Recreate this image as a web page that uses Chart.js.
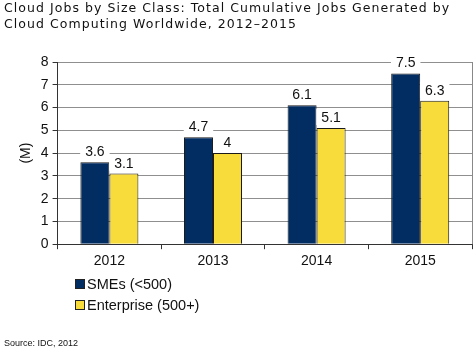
<!DOCTYPE html>
<html><head><meta charset="utf-8">
<script src="https://cdn.jsdelivr.net/npm/chart.js@4"></script>
<style>
html,body{margin:0;padding:0;background:#fff;}
#wrap{position:relative;width:476px;height:352px;overflow:hidden;}
#title{position:absolute;left:4px;top:0px;font-family:"DejaVu Sans",Verdana,sans-serif;font-size:12.5px;letter-spacing:1.05px;line-height:16px;color:#111;white-space:nowrap;}
#legend{position:absolute;left:75px;top:274px;font-family:"Liberation Sans",Arial,sans-serif;font-size:14.5px;color:#111;}
#legend .item{height:21px;line-height:21px;white-space:nowrap;}
#legend .sw{display:inline-block;width:8px;height:8px;border:1px solid #222;margin-right:2px;vertical-align:0px;}
#source{position:absolute;left:4px;top:338px;font-family:"Liberation Sans",Arial,sans-serif;font-size:9px;color:#111;}
canvas{position:absolute;left:0;top:0;}
</style></head>
<body><div id="wrap">
<canvas id="c" width="476" height="352"></canvas>
<div id="title">Cloud Jobs by Size Class: Total Cumulative Jobs Generated by<br>Cloud Computing Worldwide, 2012–2015</div>
<div id="legend"></div>
<div id="source">Source: IDC, 2012</div>
</div>
<script>
const categories = ["2012","2013","2014","2015"];
const smes = [3.6, 4.7, 6.1, 7.5];
const enterprise = [3.1, 4, 5.1, 6.3];
const seriesNames = ["SMEs (<500)", "Enterprise (500+)"];
const yTicks = [0,1,2,3,4,5,6,7,8];
const colors = ["#022D63", "#F8DC3B"];

const labelPlugin = {
  id: 'valueLabels',
  afterDatasetsDraw(chart) {
    const ctx = chart.ctx;
    ctx.save();
    ctx.font = '14px "Liberation Sans", Arial, sans-serif';
    ctx.textAlign = 'center';
    ctx.textBaseline = 'alphabetic';
    chart.data.datasets.forEach((ds, i) => {
      const meta = chart.getDatasetMeta(i);
      meta.data.forEach((bar, j) => {
        const txt = String(ds.data[j]);
        const w = ctx.measureText(txt).width;
        const x = bar.x, yb = bar.y - 6;
        ctx.fillStyle = '#fff';
        ctx.fillRect(x - w/2 - 5, yb - 13, w + 10, 16);
        ctx.fillStyle = '#111';
        ctx.fillText(txt, x, yb);
      });
    });
    const a = chart.chartArea;
    ctx.strokeStyle = '#888';
    ctx.lineWidth = 1;
    ctx.beginPath();
    ctx.moveTo(Math.round(a.right) + 0.5, a.top);
    ctx.lineTo(Math.round(a.right) + 0.5, a.bottom);
    ctx.stroke();
    ctx.restore();
  }
};

const chart = new Chart(document.getElementById('c'), {
  type: 'bar',
  data: {
    labels: categories,
    datasets: [
      { label: seriesNames[0], data: smes, backgroundColor: colors[0], borderColor: '#1a1a1a', borderWidth: 1 },
      { label: seriesNames[1], data: enterprise, backgroundColor: colors[1], borderColor: '#1a1a1a', borderWidth: 1 }
    ]
  },
  options: {
    responsive: false,
    animation: false,
    layout: { padding: { top: 62, right: 4, bottom: 78, left: 18 } },
    plugins: { legend: { display: false }, title: { display: false }, tooltip: { enabled: false } },
    datasets: { bar: { categoryPercentage: 0.56, barPercentage: 1.0 } },
    scales: {
      x: {
        grid: { display: true, drawOnChartArea: false, drawTicks: true, tickLength: 5, color: '#333', offset: true },
        border: { display: true, color: '#333', width: 1 },
        ticks: { color: '#111', font: { family: '"Liberation Sans", Arial, sans-serif', size: 14 }, padding: 4 }
      },
      y: {
        min: 0, max: 8,
        afterBuildTicks(scale) { scale.ticks = yTicks.map(v => ({ value: v })); },
        grid: { color: '#8f8f8f', tickLength: 5, tickColor: '#333' },
        border: { display: true, color: '#333', width: 1 },
        ticks: { color: '#111', font: { family: '"Liberation Sans", Arial, sans-serif', size: 14 }, padding: 4 },
        title: { display: true, text: '(M)', color: '#111', font: { family: '"Liberation Sans", Arial, sans-serif', size: 14 }, padding: { top: 0, bottom: 2 } }
      }
    }
  },
  plugins: [labelPlugin]
});

const leg = document.getElementById('legend');
chart.data.datasets.forEach(ds => {
  const d = document.createElement('div');
  d.className = 'item';
  const s = document.createElement('span');
  s.className = 'sw';
  s.style.background = ds.backgroundColor;
  d.appendChild(s);
  d.appendChild(document.createTextNode(ds.label));
  leg.appendChild(d);
});
</script>
</body></html>
